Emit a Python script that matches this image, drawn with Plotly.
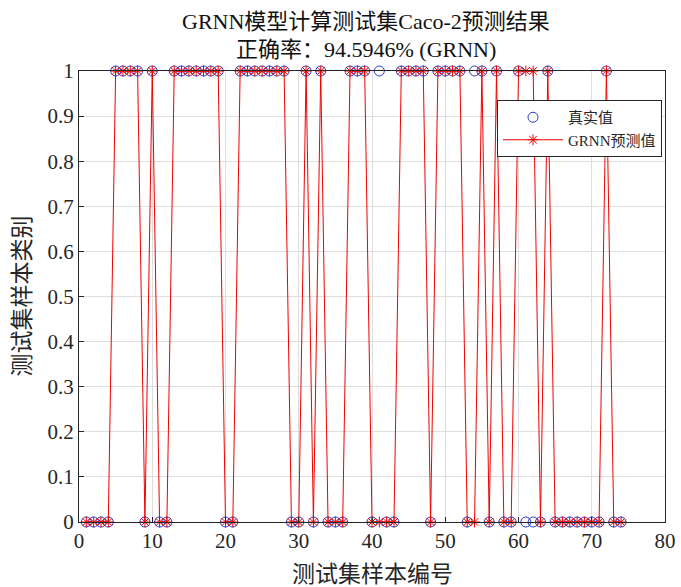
import plotly.graph_objects as go

sample_idx = list(range(1, 75))
true_vals = [0,0,0,0,1,1,1,1,0,1,0,0,1,1,1,1,1,1,1,0,0,1,1,1,1,1,1,1,0,0,
             1,0,1,0,0,0,1,1,1,0,1,0,0,1,1,1,1,0,1,1,1,1,0,1,1,0,1,0,0,1,
             0,0,0,1,0,0,0,0,0,0,0,1,0,0]
pred_vals = [0,0,0,0,1,1,1,1,0,1,0,0,1,1,1,1,1,1,1,0,0,1,1,1,1,1,1,1,0,0,
             1,0,1,0,0,0,1,1,1,0,0,0,0,1,1,1,1,0,1,1,1,1,0,0,1,0,1,0,0,1,
             1,1,0,1,0,0,0,0,0,0,0,1,0,0]

title1 = "GRNN模型计算测试集Caco-2预测结果"
title2 = "正确率：94.5946% (GRNN)"
xlabel = "测试集样本编号"
ylabel = "测试集样本类别"
x_ticks = [0, 10, 20, 30, 40, 50, 60, 70, 80]
y_ticks = [0, 0.1, 0.2, 0.3, 0.4, 0.5, 0.6, 0.7, 0.8, 0.9, 1]

FONT = "Liberation Serif, Times New Roman, Noto Sans CJK SC, serif"

W, H = 681, 587
ML, MR, MT, MB = 79, 681 - 665, 71, 587 - 522
PW, PH = W - ML - MR, H - MT - MB

def px_x(px):
    return (px - ML) / PW

def px_y(py):
    return (H - MB - py) / PH

fig = go.Figure()
fig.add_trace(go.Scatter(
    x=sample_idx, y=true_vals, mode="markers", name="真实值",
    marker=dict(symbol="circle-open", size=10, color="#2a3cc8", line=dict(width=1)),
    cliponaxis=False,
))
fig.add_trace(go.Scatter(
    x=sample_idx, y=pred_vals, mode="lines+markers", name="GRNN预测值",
    line=dict(color="#ee0000", width=1),
    marker=dict(symbol="asterisk-open", size=9, color="#ee0000", line=dict(width=1, color="#ee0000")),
    cliponaxis=False,
))

axis_common = dict(
    showline=True, linecolor="#262626", linewidth=1, mirror=True,
    ticks="inside", ticklen=5, tickcolor="#262626",
    showgrid=True, gridcolor="#dedede", gridwidth=1,
    zeroline=False, automargin=False, ticklabeloverflow="allow",
    tickfont=dict(family=FONT, size=21, color="#262626"),
)

fig.update_layout(
    width=W, height=H,
    margin=dict(l=ML, r=MR, t=MT, b=MB, autoexpand=False),
    paper_bgcolor="white", plot_bgcolor="white",
    font=dict(family=FONT, color="#262626"),
    showlegend=True,
    legend=dict(
        x=px_x(662), y=px_y(100), xanchor="right", yanchor="top",
        bgcolor="white", bordercolor="#262626", borderwidth=1,
        font=dict(family=FONT, size=15, color="#262626"),
        tracegroupgap=0, itemwidth=60,
    ),
    xaxis=dict(range=[0, 80], tickvals=x_ticks, **axis_common),
    yaxis=dict(range=[0, 1], tickvals=y_ticks,
               ticktext=[str(int(v)) if v in (0, 1) else str(v) for v in y_ticks], **axis_common),
    annotations=[
        dict(text=title1, x=px_x(366), y=px_y(21), xref="paper", yref="paper", showarrow=False,
             yanchor="middle", font=dict(family=FONT, size=22, color="#111111")),
        dict(text=title2, x=px_x(366), y=px_y(50), xref="paper", yref="paper", showarrow=False,
             yanchor="middle", font=dict(family=FONT, size=22, color="#111111")),
        dict(text=xlabel, x=0.5, y=px_y(574), xref="paper", yref="paper", showarrow=False,
             yanchor="middle", font=dict(family=FONT, size=23, color="#262626")),
        dict(text=ylabel, x=px_x(22), y=0.5, xref="paper", yref="paper", showarrow=False,
             textangle=-90, xanchor="center", yanchor="middle",
             font=dict(family=FONT, size=23, color="#262626")),
    ],
)

fig.write_html("out.html", config={"displayModeBar": False},
               post_script="document.body.style.margin='0';")
